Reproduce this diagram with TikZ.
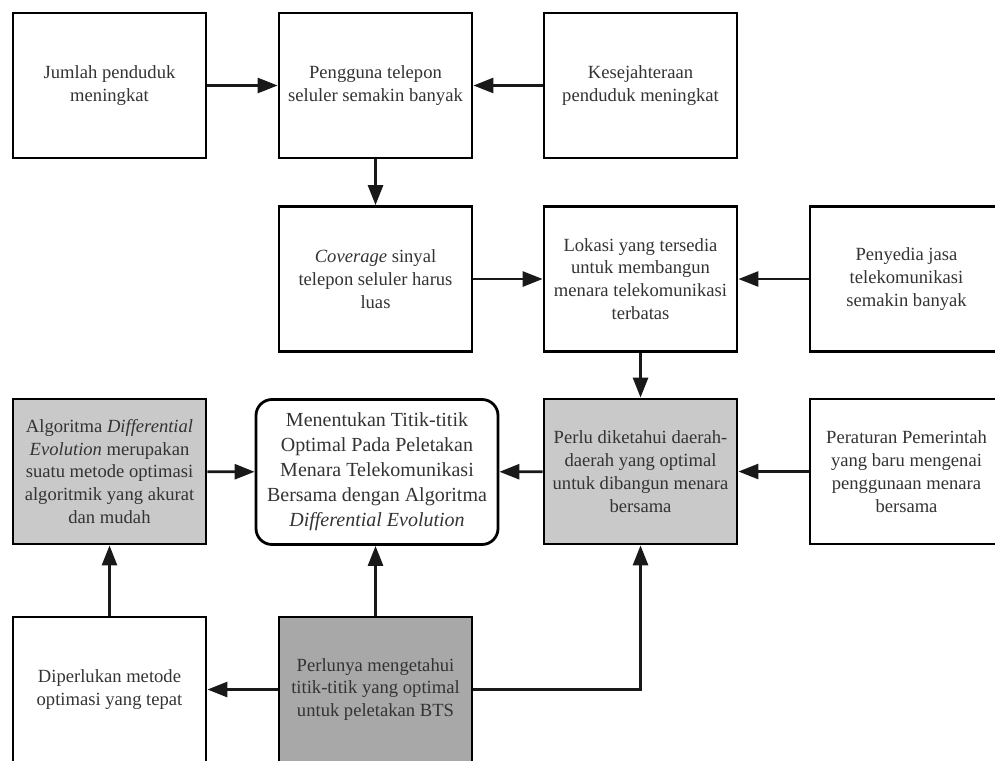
\documentclass[tikz,border=0pt]{standalone}
\usepackage{fontspec}
\setmainfont{Liberation Serif}
\usetikzlibrary{arrows.meta}
\colorlet{tcol}{black!80}
\definecolor{colL}{gray}{.79}
\definecolor{colD}{gray}{.66}
\tikzstyle{box}=[draw, line width=2.8pt, align=center, text=tcol, minimum width=193pt, minimum height=145pt, inner sep=2pt, font=\fontsize{18.6}{22.8}\selectfont]
\tikzstyle{lbox}=[box, fill=colL]
\tikzstyle{dbox}=[box, fill=colD]
\tikzstyle{goal}=[box, rounded corners=16pt, minimum width=242pt, font=\fontsize{20}{25}\selectfont]
\tikzstyle{arr}=[line width=2.8pt, black!90, -{Triangle[length=20pt,width=15pt]}]

\begin{document}
\begin{tikzpicture}[x=1pt,y=-1pt]
		\clip (0,0) rectangle (995,760);
		\node[box] (a) at (109.5,85.5) {Jumlah penduduk\\meningkat};
		\node[box] (b) at (375.5,85.5) {Pengguna telepon\\seluler semakin banyak};
		\node[box] (c) at (640.5,85.5) {Kesejahteraan\\penduduk meningkat};
		\node[box] (d) at (375.5,279) {\textit{Coverage} sinyal\\telepon seluler harus\\luas};
		\node[box] (e) at (640.5,279) {Lokasi yang tersedia\\untuk membangun\\menara telekomunikasi\\terbatas};
		\node[box] (f) at (906.5,279) {Penyedia jasa\\telekomunikasi\\semakin banyak};
		\node[lbox] (g) at (109.5,471.5) {Algoritma \textit{Differential}\\\textit{Evolution} merupakan\\suatu metode optimasi\\algoritmik yang akurat\\dan mudah};
		\node[goal] (h) at (377,472) {Menentukan Titik-titik\\Optimal Pada Peletakan\\Menara Telekomunikasi\\Bersama dengan Algoritma\\\textit{Differential Evolution}};
		\node[lbox] (i) at (640.5,471.5) {Perlu diketahui daerah-\\daerah yang optimal\\untuk dibangun menara\\bersama};
		\node[box] (j) at (906.5,471.5) {Peraturan Pemerintah\\yang baru mengenai\\penggunaan menara\\bersama};
		\node[box] (k) at (109.5,689.5) {Diperlukan metode\\optimasi yang tepat};
		\node[dbox] (l) at (375.5,689.5) {Perlunya mengetahui\\titik-titik yang optimal\\untuk peletakan BTS};
		\draw[arr] (a)edge(b) (c)edge(b) (b)edge(d) (d)edge(e) (f)edge(e) (e)edge(i) (g)edge(h) (i)edge(h) (j)edge(i) (l)edge(k);
		\draw[arr] (l.north) -- (l.north |- h.south);
		\draw[arr] (l.east) -| (i.south);
		\draw[arr] (k)--(g);
	\end{tikzpicture}
\end{document}
